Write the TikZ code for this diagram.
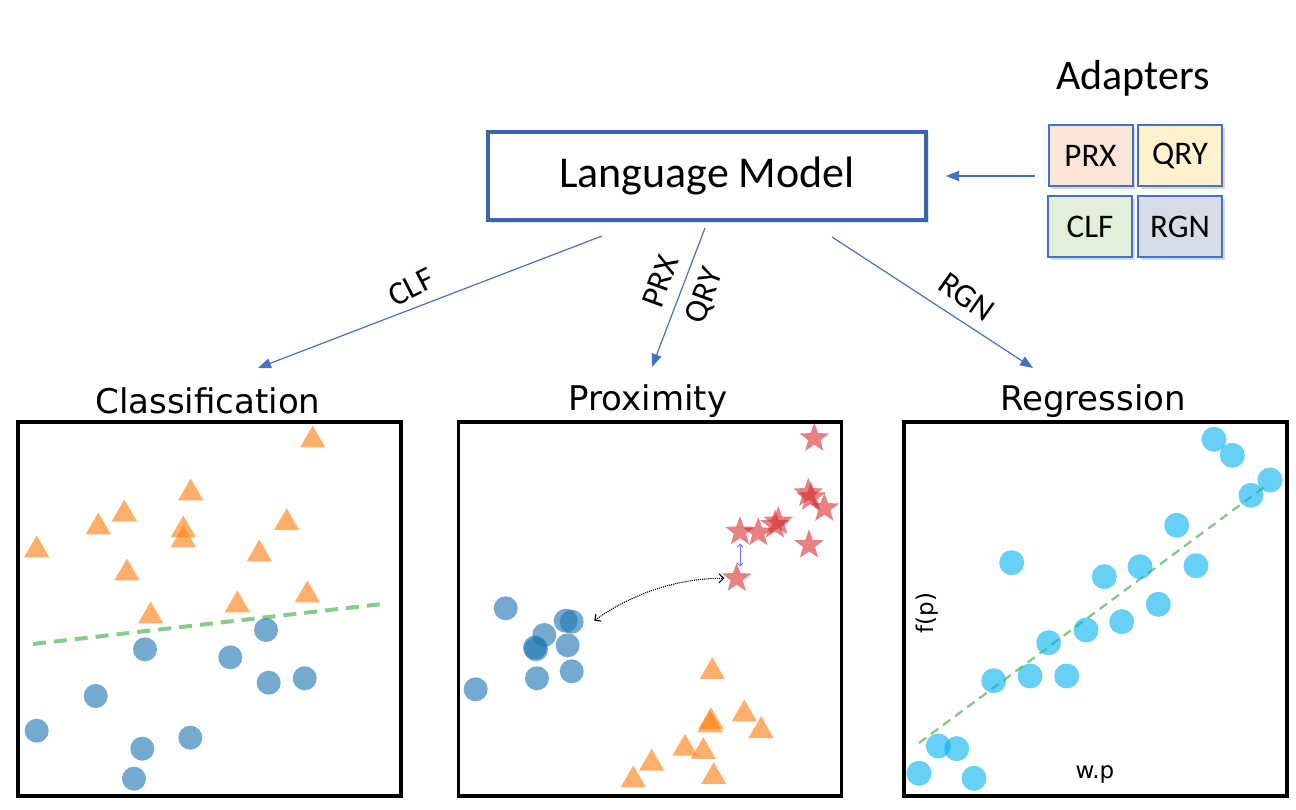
\documentclass[tikz,border=0pt]{standalone}
\usepackage{fontspec}
\setmainfont{Carlito}
\newfontfamily\dejavu{DejaVu Sans}
\usetikzlibrary{arrows.meta,shapes.geometric,shadows}
\definecolor{lmblue}{HTML}{3A63B0}
\definecolor{arrblue}{HTML}{4472C4}
\definecolor{prxfill}{HTML}{FBE5D6}
\definecolor{qryfill}{HTML}{FFF2CC}
\definecolor{clffill}{HTML}{E2F0D9}
\definecolor{rgnfill}{HTML}{D6DCE5}
\definecolor{tabblue}{RGB}{31,119,180}
\definecolor{taborange}{RGB}{255,127,14}
\definecolor{tabred}{RGB}{214,39,40}
\definecolor{skyb}{RGB}{0,178,240}
\definecolor{fitgreen}{RGB}{100,185,100}
\tikzset{
  lmbox/.style={draw=lmblue, line width=4pt, fill=white, minimum width=438pt, minimum height=88pt,
    drop shadow={opacity=0.25, shadow xshift=3pt, shadow yshift=-3pt},
    font=\fontsize{44}{44}\selectfont},
  adbox/.style={draw=arrblue, line width=2pt, minimum width=84pt, minimum height=61pt,
    drop shadow={opacity=0.3, shadow xshift=2.5pt, shadow yshift=-2.5pt},
    font=\fontsize{33}{33}\selectfont},
  flow/.style={draw=arrblue, line width=1.2pt, -{Triangle[length=13pt,width=10pt]}},
  flowlbl/.style={font=\fontsize{33}{33}\selectfont, inner sep=0pt},
  paneltitle/.style={font=\dejavu\fontsize{34}{34}\selectfont, inner sep=0pt},
  panel/.style={draw=black, line width=3.2pt, minimum width=383pt, minimum height=374pt},
  bdot/.style={circle, fill=tabblue, fill opacity=0.62, minimum size=24pt, inner sep=0pt},
  otri/.style={regular polygon, regular polygon sides=3, fill=taborange, fill opacity=0.62, minimum size=29pt, inner sep=0pt},
  rstar/.style={star, star points=5, star point ratio=2.4, fill=tabred, fill opacity=0.58, minimum size=31pt, inner sep=0pt},
  sdot/.style={circle, fill=skyb, fill opacity=0.6, minimum size=25pt, inner sep=0pt},
  axlbl/.style={font=\dejavu\fontsize{23}{23}\selectfont, inner sep=0pt},
}
\begin{document}
\begin{tikzpicture}[x=1pt,y=-1pt]
\useasboundingbox (0,0) rectangle (1296,810);
\fill[white] (0,0) rectangle (1296,810);

% Language model and adapters
\node[lmbox] (lm) at (707,176) {Language Model};
\node[font=\fontsize{42}{42}\selectfont] (adtitle) at (1133,78) {Adapters};
\node[adbox, fill=prxfill] (aprx) at (1090.5,156) {PRX};
\node[adbox, fill=qryfill] (aqry) at (1180,156) {QRY};
\node[adbox, fill=clffill] (aclf) at (1090,227) {CLF};
\node[adbox, fill=rgnfill] (argn) at (1180,227) {RGN};

\coordinate (adS) at (1035,176);
\coordinate (adE) at (946,176);
\draw[flow] (adS) -- (adE);

% Panel titles
\node[paneltitle] (tclf) at (208,401) {Classification};
\node[paneltitle] (tprx) at (648,401) {Proximity};
\node[paneltitle] (trgn) at (1093,401) {Regression};

% Flow arrows
\coordinate (clfS) at (602,236);
\coordinate (clfE) at (258,368);
\coordinate (pqS) at (705,228);
\coordinate (pqE) at (652,367);
\coordinate (rgnS) at (832,237);
\coordinate (rgnE) at (1033,368);
\draw[flow] (clfS) -- (clfE);
\draw[flow] (pqS) -- (pqE);
\draw[flow] (rgnS) -- (rgnE);
\node[flowlbl, rotate=27] (lclf) at (411,287) {CLF};
\node[flowlbl, rotate=70] (lprx) at (660,281) {PRX};
\node[flowlbl, rotate=70] (lqry) at (705,296) {QRY};
\node[flowlbl, rotate=-35] (lrgn) at (967,297) {RGN};

% Panels
\node[panel] (pclf) at (209.5,609) {};
\node[panel] (pprx) at (650,609) {};
\node[panel] (prgn) at (1095.5,609) {};

% ---- Classification
\coordinate (cf1) at (33,644);
\coordinate (cf2) at (382,604);
\draw[fitgreen, opacity=0.75, line width=4pt, dash pattern=on 13pt off 8pt] (cf1) -- (cf2);
\foreach \i/\p in {1/{(312.7,440)},2/{(190.7,493)},3/{(124.3,514)},4/{(98.3,527)},5/{(183.3,530)},
  6/{(183.3,540)},7/{(286.7,522.7)},8/{(36.7,550)},9/{(259.3,554)},10/{(127,573)},
  11/{(307.3,595)},12/{(237.3,605)},13/{(150.7,616)}}
  \node[otri] (ct\i) at \p {};
\foreach \i/\p in {1/{(266,630)},2/{(145,649.3)},3/{(230.3,657.3)},4/{(268.7,682.7)},5/{(304.7,678.3)},
  6/{(95.7,696)},7/{(36.7,730.7)},8/{(190.3,737.7)},9/{(142.3,748.7)},10/{(134,778.7)}}
  \node[bdot] (cc\i) at \p {};

% ---- Proximity
\foreach \i/\p in {1/{(814.3,438.3)},2/{(808.3,493.3)},3/{(811,497.3)},4/{(824.3,508.3)},
  5/{(778.3,521.7)},6/{(775,525)},7/{(758.3,532.7)},8/{(740,531.7)},9/{(809,545)},10/{(736.7,578.3)}}
  \node[rstar] (ps\i) at \p {};
\foreach \i/\p in {1/{(505.7,608.3)},2/{(565.7,620.7)},3/{(571.7,621.7)},4/{(544.3,635)},
  5/{(536,649.3)},6/{(535,647.5)},7/{(567.7,645.3)},8/{(537,678.3)},9/{(571.7,671.3)},10/{(475.7,689.3)}}
  \node[bdot] (pc\i) at \p {};
\foreach \i/\p in {1/{(712.3,671.7)},2/{(711,721.7)},3/{(710,725)},4/{(744.3,714)},5/{(761,730.7)},
  6/{(685,748.3)},7/{(703.3,751.7)},8/{(651.7,763.3)},9/{(713.7,776.7)},10/{(633.3,780)}}
  \node[otri] (pt\i) at \p {};
\coordinate (pbA) at (740,543.5);
\coordinate (pbB) at (740,566.5);
\draw[draw=blue!55, line width=0.9pt, {Straight Barb[length=3pt]}-{Straight Barb[length=3pt]}] (pbA) -- (pbB);
\coordinate (pdA) at (594.3,620.7);
\coordinate (pdB) at (724.3,578.3);
\draw[black, line width=1.1pt, densely dotted, {Straight Barb[length=4.5pt]}-{Straight Barb[length=4.5pt]}]
  (pdA) .. controls (628,596) and (675,578) .. (pdB);

% ---- Regression
\coordinate (rf1) at (919,743);
\coordinate (rf2) at (1267,485);
\draw[fitgreen, opacity=0.8, line width=2.2pt, dash pattern=on 9pt off 6pt] (rf1) -- (rf2);
\foreach \i/\p in {1/{(1214,439.3)},2/{(1232.3,455.3)},3/{(1270,480)},4/{(1251,495.3)},
  5/{(1176.7,525.3)},6/{(1011.7,562.7)},7/{(1140,566.7)},8/{(1196,565.7)},9/{(1104.3,576.7)},
  10/{(1158.3,604.3)},11/{(1121.7,621.7)},12/{(1086,630)},13/{(1048.7,642.7)},14/{(993.7,680.7)},
  15/{(1030,676)},16/{(1066.7,676)},17/{(938.3,746)},18/{(956.7,748.7)},19/{(919,773.3)},20/{(974,778.3)}}
  \node[sdot] (rc\i) at \p {};
\node[axlbl, rotate=90] (fp) at (927,613) {f(p)};
\node[axlbl] (wp) at (1095,774) {w.p};
\end{tikzpicture}
\end{document}
